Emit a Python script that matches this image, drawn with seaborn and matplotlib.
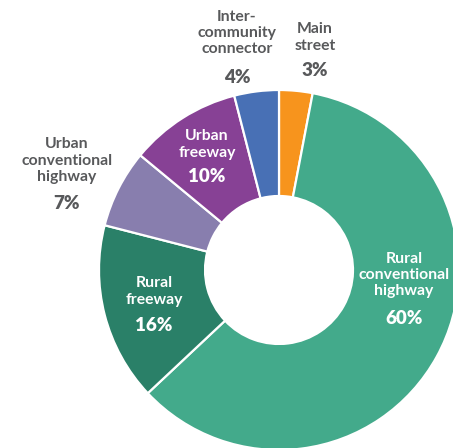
import matplotlib.pyplot as plt
import seaborn as sns

# shares of road segments by type, clockwise from 12 o'clock
names = ["Main\nstreet", "Rural\nconventional\nhighway", "Rural\nfreeway",
         "Urban\nconventional\nhighway", "Urban\nfreeway", "Inter-\ncommunity\nconnector"]
shares = [3, 60, 16, 7, 10, 4]
colors = ["#F7941D", "#43AA8B", "#2A8068", "#887EAE", "#874195", "#4870B5"]

# label placement (x, name y, percent y) in radius units, white = inside the ring
label_pos = [(0.20, 1.292, 1.111), (0.694, -0.028, -0.272), (-0.694, -0.119, -0.306),
             (-1.178, 0.606, 0.367), (-0.40, 0.697, 0.517), (-0.233, 1.317, 1.072)]
inside = [False, True, True, False, True, False]

sns.set_theme(style='white')
plt.rcParams['font.family'] = ['Lato', 'DejaVu Sans']

fig = plt.figure(figsize=(4.53, 4.48), dpi=100)
ax = fig.add_axes([0, 0, 1, 1])
ax.pie(shares, colors=colors, startangle=90, counterclock=False, radius=1,
       wedgeprops=dict(width=0.589, edgecolor='white', linewidth=1.6))

for name, val, (x, ny, py), ins in zip(names, shares, label_pos, inside):
    c = 'white' if ins else '#58595B'
    ax.text(x, ny, name, ha='center', va='center', fontsize=11.3, fontweight='bold',
            color=c, linespacing=1.22)
    ax.text(x, py, f"{val}%", ha='center', va='center', fontsize=13.5, fontweight='heavy',
            color=c)

ax.set_xlim(-279 / 180, 174 / 180)
ax.set_ylim(-178 / 180, 270 / 180)
ax.set_aspect('auto')
ax.axis('off')

fig.savefig('out.png', dpi=100)
